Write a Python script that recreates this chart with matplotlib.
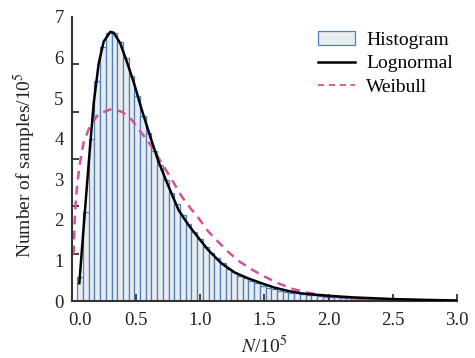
import numpy as np
import matplotlib
matplotlib.use("Agg")
import matplotlib.pyplot as plt
import matplotlib.transforms as mtransforms
from matplotlib.patches import Patch
from matplotlib.lines import Line2D

# histogram heights (units of 10^5 samples), one per bin
hist_counts = [0.60, 2.20, 4.00, 5.42, 6.26, 6.59, 6.61, 6.37, 5.98, 5.54,
               5.05, 4.56, 4.13, 3.70, 3.35, 2.98, 2.67, 2.39, 2.12, 1.91,
               1.71, 1.52, 1.34, 1.19, 1.05, 0.93, 0.80, 0.72, 0.62, 0.56,
               0.49, 0.44, 0.38, 0.33, 0.29, 0.26, 0.23, 0.21, 0.19, 0.17,
               0.15, 0.14, 0.12, 0.11, 0.10, 0.09, 0.08, 0.07, 0.065, 0.06,
               0.05, 0.045, 0.04, 0.035, 0.03, 0.028, 0.025, 0.022, 0.02, 0.018,
               0.016, 0.014, 0.012, 0.011, 0.01, 0.009, 0.008]
bin_start = 0.041
bin_width = 0.0445

# fitted lognormal curve
logn_x = [0.057, 0.091, 0.130, 0.169, 0.208, 0.247, 0.298, 0.325, 0.376, 0.428,
          0.48, 0.545, 0.61, 0.675, 0.753, 0.831, 0.909, 0.958, 1.061, 1.165,
          1.27, 1.373, 1.477, 1.58, 1.684, 1.788, 1.89, 1.997, 2.2, 2.5, 2.75, 3.0]
logn_y = [0.44, 1.83, 3.39, 4.87, 5.85, 6.39, 6.63, 6.61, 6.35, 5.89,
          5.40, 4.70, 4.05, 3.43, 2.82, 2.24, 1.87, 1.67, 1.26, 0.93,
          0.70, 0.56, 0.44, 0.33, 0.25, 0.19, 0.16, 0.13, 0.09, 0.05, 0.03, 0.015]

# fitted weibull curve
weib_x = [0.012, 0.02, 0.031, 0.057, 0.091, 0.143, 0.208, 0.31, 0.39, 0.467,
          0.545, 0.623, 0.70, 0.78, 0.857, 0.935, 0.997, 1.061, 1.14, 1.218,
          1.308, 1.40, 1.503, 1.607, 1.71, 1.815, 1.919, 2.02, 2.1, 2.2,
          2.3, 2.4, 2.5, 2.6, 2.8, 3.0]
weib_y = [1.15, 1.9, 2.57, 3.31, 3.92, 4.33, 4.61, 4.73, 4.66, 4.46,
          4.13, 3.80, 3.39, 2.98, 2.57, 2.24, 2.0, 1.72, 1.46, 1.21,
          0.97, 0.78, 0.60, 0.44, 0.31, 0.22, 0.16, 0.12, 0.09, 0.065,
          0.045, 0.03, 0.015, 0.008, 0.003, 0.001]

plt.rcParams["font.family"] = ["Liberation Serif", "DejaVu Serif"]
plt.rcParams["mathtext.fontset"] = "stix"

fig = plt.figure(figsize=(4.75, 3.58), dpi=100)
ax = fig.add_axes([0.1516, 0.159, 0.810, 0.794])

edges = bin_start + bin_width * np.arange(len(hist_counts))
ax.bar(edges, hist_counts, width=bin_width, align="edge",
       facecolor="#e8ecec", edgecolor="#4f7fc2", linewidth=0.9, zorder=1)
ax.plot(logn_x, logn_y, color="black", lw=1.8, zorder=3)
ax.plot(weib_x, weib_y, color="#d84f9c", lw=1.8, ls=(0, (3.5, 2.5)), zorder=2)

ax.set_xlim(0, 3.0)
ax.set_ylim(0, 7)
ax.set_xticks(np.arange(0, 3.01, 0.5))
ax.set_xticklabels(["0.0", "0.5", "1.0", "1.5", "2.0", "2.5", "3.0"])
ax.set_yticks(range(8))
ax.set_yticks(np.linspace(0, 7, 7), minor=True)
ax.tick_params(axis="y", which="major", length=0, pad=6)
ax.tick_params(axis="y", which="minor", direction="in", length=5, width=1.3, color="#333333")
ax.tick_params(axis="x", direction="in", length=5, width=1.3, color="#333333", pad=8)
ax.tick_params(labelsize=13.5, labelcolor="#222222")

# first x label sits a little to the right in the original
lbl0 = ax.get_xticklabels()[0]
lbl0.set_transform(lbl0.get_transform() +
                   mtransforms.ScaledTranslation(0.08, 0, fig.dpi_scale_trans))

for s in ["top", "right"]:
    ax.spines[s].set_visible(False)
for s in ["left", "bottom"]:
    ax.spines[s].set_linewidth(1.5)
    ax.spines[s].set_color("#333333")

ax.set_ylabel("Number of samples/10$^5$", fontsize=14, color="#222222")
ax.yaxis.set_label_coords(-0.088, 0.48)
ax.set_xlabel("$N$/10$^5$", fontsize=14, color="#222222", labelpad=4)

handles = [Patch(facecolor="#e8ecec", edgecolor="#4f7fc2", linewidth=0.9),
           Line2D([], [], color="black", lw=1.8),
           Line2D([], [], color="#d84f9c", lw=1.3, ls=(0, (3.5, 2.5)))]
ax.legend(handles, ["Histogram", "Lognormal", "Weibull"], loc="upper right",
          frameon=False, fontsize=14, labelspacing=0.3, handletextpad=0.55,
          handlelength=1.9, borderaxespad=0.2, bbox_to_anchor=(1.02, 0.99))

fig.savefig("out.png", dpi=100)
